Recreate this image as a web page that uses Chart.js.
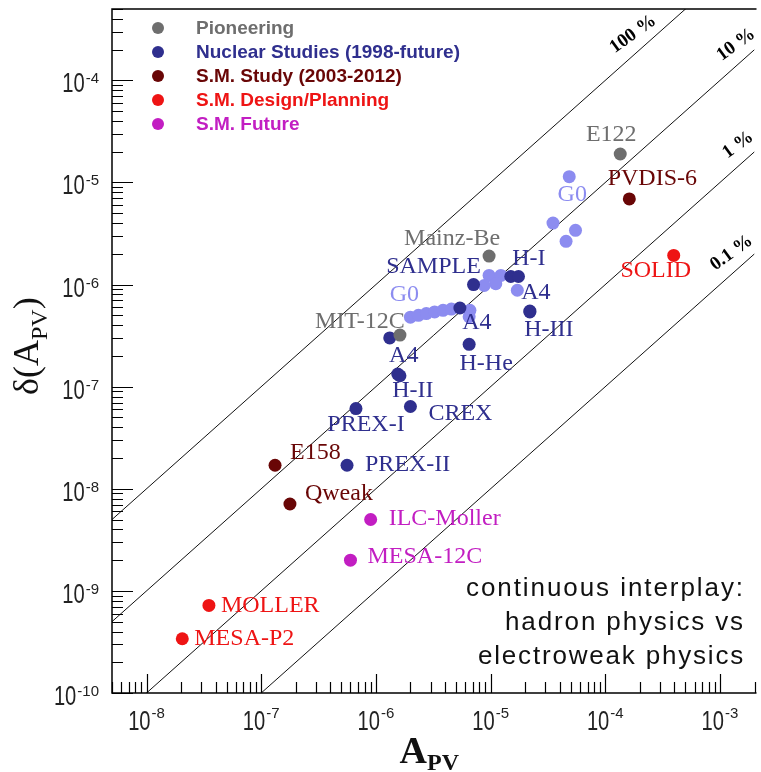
<!DOCTYPE html>
<html>
<head>
<meta charset="utf-8">
<script src="https://cdn.jsdelivr.net/npm/chart.js@4.4.1/dist/chart.umd.min.js"></script>
<style>
  html, body { margin: 0; padding: 0; background: #fff; }
  #wrap { width: 761px; height: 772px; }
</style>
</head>
<body>
<div id="wrap"><canvas id="myChart"></canvas></div>
<script>
// ---- data ----
const categories = ["Pioneering", "Nuclear Studies (1998-future)", "S.M. Study (2003-2012)", "S.M. Design/Planning", "S.M. Future"];

const pioneeringNames = ["E122", "Mainz-Be", "MIT-12C"];
const pioneeringA = [1.35e-4, 9.7e-6, 1.62e-6];
const pioneeringErr = [1.9e-5, 1.9e-6, 3.2e-7];

const nuclearNames = ["SAMPLE", "H-I", "", "A4", "H-III", "A4", "H-He", "", "A4", "H-II", "CREX", "PREX-I", "PREX-II"];
const nuclearA = [7.1e-6, 1.5e-5, 1.75e-5, 2.2e-5, 2.2e-5, 5.4e-6, 6.5e-6, 1.32e-6, 1.55e-6, 1.62e-6, 2.0e-6, 6.7e-7, 5.6e-7];
const nuclearErr = [1.0e-6, 1.2e-6, 1.2e-6, 5.5e-7, 5.4e-7, 5.9e-7, 2.6e-7, 3.0e-7, 1.33e-7, 1.28e-7, 6.4e-8, 6.1e-8, 1.7e-8];

const g0Names = ["G0", "", "", "", "", "", "", "", "", "G0", "", "", "", "", "", "", ""];
const g0A = [4.85e-5, 3.5e-5, 5.5e-5, 4.55e-5, 9.7e-6, 1.23e-5, 1.11e-5, 8.8e-6, 1.71e-5,
             2.0e-6, 2.35e-6, 2.75e-6, 3.25e-6, 3.85e-6, 4.55e-6, 6.6e-6, 6.5e-6];
const g0Err = [1.14e-5, 4.0e-6, 3.4e-6, 2.65e-6, 1.23e-6, 1.23e-6, 1.02e-6, 9.8e-7, 8.8e-7,
               4.8e-7, 5.0e-7, 5.2e-7, 5.4e-7, 5.6e-7, 5.75e-7, 5.6e-7, 4.85e-7];

const smStudyNames = ["PVDIS-6", "E158", "Qweak"];
const smStudyA = [1.62e-4, 1.32e-7, 1.78e-7];
const smStudyErr = [6.9e-6, 1.7e-8, 7.1e-9];

const smDesignNames = ["SOLID", "MOLLER", "MESA-P2"];
const smDesignA = [3.95e-4, 3.5e-8, 2.05e-8];
const smDesignErr = [1.93e-6, 7.2e-10, 3.4e-10];

const smFutureNames = ["ILC-Moller", "MESA-12C"];
const smFutureA = [9.0e-7, 6.0e-7];
const smFutureErr = [5.0e-9, 2.0e-9];

const precisionFractions = [1, 0.1, 0.01, 0.001];
const precisionLabels = ["100 %", "10 %", "1 %", "0.1 %"];

const xTickExps = [-8, -7, -6, -5, -4, -3];
const yTickExps = [-10, -9, -8, -7, -6, -5, -4];
const xMin = 5e-9, xMax = 2e-3, yMin = 1e-10, yMax = 5e-4;

const noteLines = ["continuous interplay:", "hadron physics vs", "electroweak physics"];

// ---- layout / style ----
const colors = ["#6e6e6e", "#2f2f8e", "#690606", "#ee1414", "#c21ec2"];
const g0Color = "#8c8cf0";

// label offsets in pixels from the point: [dx, dy, align]
const pioneeringLabelPos = [[-9, -19, "c"], [-37, -17, "c"], [-40, -13, "c"]];
const nuclearLabelPos = [[-40, -18, "c"], [18, -18, "c"], null, [6, -18, "c"], [19, 18, "c"], [17, 15, "c"],
                         [17, 19, "c"], null, [6, -18, "c"], [13, 15, "c"], [18, 7, "l"], [10, 16, "c"], [18, -1, "l"]];
const g0LabelPos = [[3, 18, "c"], null, null, null, null, null, null, null, null, [-6, -22, "c"]];
const smStudyLabelPos = [[23, -20, "c"], [15, -13, "l"], [15, -10, "l"]];
const smDesignLabelPos = [[-18, 15, "c"], [12, 0, "l"], [12, 0, "l"]];
const smFutureLabelPos = [[18, -1, "l"], [17, -3, "l"]];
const precisionLabelAt = [2.16e-4, 1.71e-3, 1.78e-3, 1.56e-3];

function pts(xs, ys)
{
  return xs.map((x, i) => ({x: x, y: ys[i]}));
}

function pointSet(names, xs, ys, color, labelColor, labelPos)
{
  return {
    type: "scatter",
    data: pts(xs, ys),
    names: names,
    labelPos: labelPos,
    labelColor: labelColor,
    backgroundColor: color,
    pointBackgroundColor: color,
    pointBorderWidth: 0,
    pointRadius: 6.5,
    order: 1,
  };
}

const datasets = [
  pointSet(pioneeringNames, pioneeringA, pioneeringErr, colors[0], colors[0], pioneeringLabelPos),
  pointSet(smStudyNames, smStudyA, smStudyErr, colors[2], colors[2], smStudyLabelPos),
  pointSet(smDesignNames, smDesignA, smDesignErr, colors[3], colors[3], smDesignLabelPos),
  pointSet(smFutureNames, smFutureA, smFutureErr, colors[4], colors[4], smFutureLabelPos),
  pointSet(nuclearNames, nuclearA, nuclearErr, colors[1], colors[1], nuclearLabelPos),
  pointSet(g0Names, g0A, g0Err, g0Color, g0Color, g0LabelPos),
];

precisionFractions.forEach(f =>
{
  datasets.push({
    type: "line",
    data: [{x: xMin, y: xMin * f}, {x: xMax, y: xMax * f}],
    borderColor: "#111",
    borderWidth: 1,
    pointRadius: 0,
    tension: 0,
    order: 5,
  });
});

function supText(ctx, e, x, y, align, baseFont, supFont, supRise, sx)
{
  const sup = String(e);
  ctx.font = baseFont;
  const bw = ctx.measureText("10").width * sx;
  ctx.font = supFont;
  const sw = ctx.measureText(sup).width;
  const total = bw + 1 + sw;
  const left = align === "right" ? x - total : x - total / 2;
  ctx.textAlign = "left";
  ctx.textBaseline = "alphabetic";
  ctx.save();
  ctx.font = baseFont;
  ctx.translate(left, y);
  ctx.scale(sx, 1);
  ctx.fillText("10", 0, 0);
  ctx.restore();
  ctx.font = supFont;
  ctx.fillText(sup, left + bw + 1, y - supRise);
}

function fitRight(ctx, text, right, y, target)
{
  ctx.letterSpacing = "0px";
  const w = ctx.measureText(text).width;
  const n = text.length;
  if ("letterSpacing" in ctx)
  {
    ctx.letterSpacing = ((target - w) / n) + "px";
    ctx.textAlign = "left";
    ctx.fillText(text, right - target, y);
    ctx.letterSpacing = "0px";
  }
  else
  {
    ctx.save();
    ctx.translate(right - target, y);
    ctx.scale(target / w, 1);
    ctx.textAlign = "left";
    ctx.fillText(text, 0, 0);
    ctx.restore();
  }
}

const decorations = {
  id: "decorations",
  afterDatasetsDraw(chart)
  {
    const ctx = chart.ctx;
    const area = chart.chartArea;
    const xs = chart.scales.x, ys = chart.scales.y;

    // point labels
    chart.data.datasets.forEach((ds, di) =>
    {
      if (!ds.names)
        return;
      const meta = chart.getDatasetMeta(di);
      ds.names.forEach((name, i) =>
      {
        const pos = ds.labelPos[i];
        if (!name || !pos)
          return;
        const p = meta.data[i];
        ctx.save();
        ctx.font = '24px "Liberation Serif"';
        ctx.fillStyle = ds.labelColor;
        ctx.textAlign = pos[2] === "l" ? "left" : "center";
        ctx.textBaseline = "middle";
        ctx.fillText(name, p.x + pos[0], p.y + pos[1]);
        ctx.restore();
      });
    });

    // precision line labels
    precisionFractions.forEach((f, i) =>
    {
      const a = precisionLabelAt[i];
      const px = xs.getPixelForValue(a), py = ys.getPixelForValue(a * f);
      const k = (ys.getPixelForValue(1e-8 * f) - ys.getPixelForValue(1e-7 * f)) /
                (xs.getPixelForValue(1e-7) - xs.getPixelForValue(1e-8));
      const len = Math.hypot(k, 1);
      const nx = -k / len, ny = -1 / len;
      ctx.save();
      ctx.translate(px + nx * 16, py + ny * 16);
      ctx.rotate(-36 * Math.PI / 180);
      ctx.font = 'bold 19px "Liberation Serif"';
      ctx.fillStyle = "#000";
      ctx.textAlign = "center";
      ctx.textBaseline = "middle";
      ctx.fillText(precisionLabels[i], 0, 0);
      ctx.restore();
    });

    // frame and inward ticks
    ctx.save();
    ctx.strokeStyle = "#000";
    ctx.lineWidth = 1.5;
    ctx.beginPath();
    ctx.moveTo(area.right + 2, area.top);
    ctx.lineTo(area.left, area.top);
    ctx.lineTo(area.left, area.bottom);
    ctx.lineTo(area.right + 2, area.bottom);
    ctx.stroke();
    ctx.lineWidth = 1.2;
    ctx.beginPath();
    for (let e = -9; e <= -3; e++)
      for (let m = 1; m <= 9; m++)
      {
        const v = m * Math.pow(10, e);
        if (v < xMin * 0.999 || v > xMax * 1.001)
          continue;
        const px = Math.round(xs.getPixelForValue(v)) + 0.5;
        ctx.moveTo(px, area.bottom);
        ctx.lineTo(px, area.bottom - (m === 1 ? 19 : 11));
      }
    for (let e = -10; e <= -4; e++)
      for (let m = 1; m <= 9; m++)
      {
        const v = m * Math.pow(10, e);
        if (v < yMin * 0.999 || v > yMax * 1.001)
          continue;
        const py = Math.round(ys.getPixelForValue(v)) + 0.5;
        ctx.moveTo(area.left, py);
        ctx.lineTo(area.left + (m === 1 ? 21 : 11), py);
      }
    ctx.stroke();
    ctx.restore();

    // tick labels
    ctx.save();
    ctx.fillStyle = "#222";
    xTickExps.forEach(e =>
    {
      const px = xs.getPixelForValue(Math.pow(10, e));
      supText(ctx, e, px, area.bottom + 37, "center", '28px "Liberation Sans"', '15px "Liberation Sans"', 12, 0.72);
    });
    yTickExps.forEach(e =>
    {
      const py = ys.getPixelForValue(Math.pow(10, e));
      supText(ctx, e, 99, py + 12, "right", '28px "Liberation Sans"', '15px "Liberation Sans"', 9, 0.72);
    });
    ctx.restore();

    // axis titles
    ctx.save();
    ctx.fillStyle = "#111";
    ctx.textBaseline = "alphabetic";
    ctx.textAlign = "left";
    ctx.font = 'bold 38px "Liberation Serif"';
    const aw = ctx.measureText("A").width;
    ctx.font = 'bold 24px "Liberation Serif"';
    const pw = ctx.measureText("PV").width;
    const tx = (area.left + area.right) / 2 - 4 - (aw + pw) / 2;
    ctx.font = 'bold 38px "Liberation Serif"';
    ctx.fillText("A", tx, 763);
    ctx.font = 'bold 24px "Liberation Serif"';
    ctx.fillText("PV", tx + aw, 770);

    ctx.translate(38, 395);
    ctx.rotate(-Math.PI / 2);
    ctx.font = '36px "Liberation Serif"';
    ctx.fillText("δ(A", 0, 0);
    let off = ctx.measureText("δ(A").width;
    ctx.font = '24px "Liberation Serif"';
    ctx.fillText("PV", off, 9);
    off += ctx.measureText("PV").width;
    ctx.font = '36px "Liberation Serif"';
    ctx.fillText(")", off, 0);
    ctx.restore();

    // legend
    ctx.save();
    categories.forEach((c, i) =>
    {
      const y = 28 + i * 24;
      ctx.fillStyle = colors[i];
      ctx.beginPath();
      ctx.arc(158, y, 6, 0, Math.PI * 2);
      ctx.fill();
      ctx.font = 'bold 19px "Liberation Sans"';
      ctx.textAlign = "left";
      ctx.textBaseline = "middle";
      ctx.fillText(c, 196, y + 1);
    });
    ctx.restore();

    // note
    ctx.save();
    ctx.fillStyle = "#111";
    ctx.font = '26px "Liberation Sans"';
    ctx.textBaseline = "alphabetic";
    const noteWidths = [279, 240, 267];
    noteLines.forEach((t, i) => fitRight(ctx, t, 745, 596 + i * 34, noteWidths[i]));
    ctx.restore();
  }
};

new Chart(document.getElementById("myChart"), {
  type: "scatter",
  data: {datasets: datasets},
  options: {
    responsive: true,
    maintainAspectRatio: false,
    animation: false,
    events: [],
    layout: {padding: {top: 9, left: 0, right: 0, bottom: 0}},
    plugins: {legend: {display: false}, tooltip: {enabled: false}},
    scales: {
      x: {
        type: "logarithmic",
        min: xMin,
        max: xMax,
        grid: {display: false},
        border: {display: false},
        ticks: {display: false},
        afterFit: s => { s.height = 79; },
      },
      y: {
        type: "logarithmic",
        min: yMin,
        max: yMax,
        grid: {display: false},
        border: {display: false},
        ticks: {display: false},
        afterFit: s => { s.width = 112; },
      },
    },
  },
  plugins: [decorations],
});
</script>
</body>
</html>
